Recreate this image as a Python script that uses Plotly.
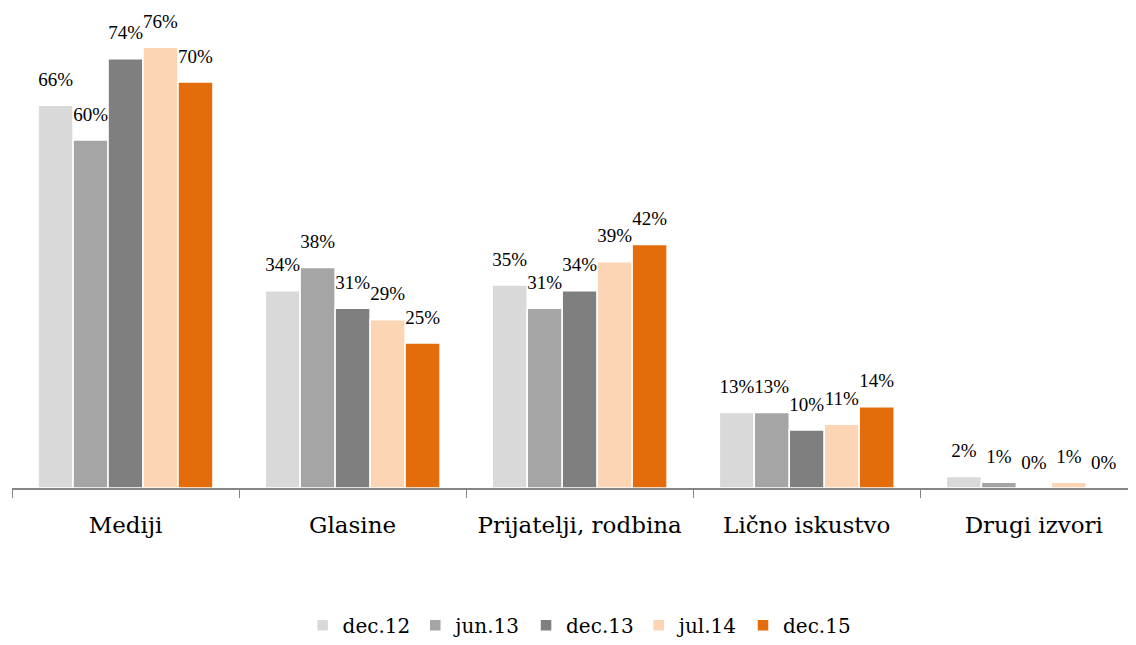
import plotly.graph_objects as go

# ==========================================================
# DATA
# ==========================================================

categories = ["Mediji", "Glasine", "Prijatelji, rodbina", "Lično iskustvo", "Drugi izvori"]

series_names = ["dec.12", "jun.13", "dec.13", "jul.14", "dec.15"]

dec12 = [66, 34, 35, 13, 2]
jun13 = [60, 38, 31, 13, 1]
dec13 = [74, 31, 34, 10, 0]
jul14 = [76, 29, 39, 11, 1]
dec15 = [70, 25, 42, 14, 0]

series_values = [dec12, jun13, dec13, jul14, dec15]

colors = ["#D9D9D9", "#A5A5A5", "#7F7F7F", "#FCD5B4", "#E46C0A"]

FONT = "DejaVu Serif, Liberation Serif, serif"
LABEL_FONT = "Liberation Serif, DejaVu Serif, serif"

# ==========================================================
# FIGURE
# ==========================================================

fig = go.Figure()

for name, vals, col in zip(series_names, series_values, colors):
    fig.add_trace(go.Bar(
        name=name,
        x=categories,
        y=vals,
        offsetgroup=name,
        marker=dict(color=col, line=dict(color="white", width=1.5)),
        hoverinfo="skip",
    ))

# value labels: invisible grouped markers so the text sits a bit above each bar
for name, vals in zip(series_names, series_values):
    fig.add_trace(go.Scatter(
        x=categories,
        y=vals,
        offsetgroup=name,
        mode="markers+text",
        marker=dict(size=22, color="rgba(0,0,0,0)"),
        text=[f"{v}%" for v in vals],
        textposition="top center",
        textfont=dict(family=LABEL_FONT, size=19, color="black"),
        cliponaxis=False,
        showlegend=False,
        hoverinfo="skip",
    ))

# page body has an 8px margin, so the figure is trimmed to fit the window
fig.update_layout(
    barmode="group",
    bargap=0.23,
    bargroupgap=0,
    scattermode="group",
    scattergap=0.23,
    width=1128,
    height=637,
    margin=dict(l=4, r=0, t=16, b=151),
    paper_bgcolor="white",
    plot_bgcolor="white",
    font=dict(family=FONT, color="black"),
    showlegend=True,
    legend=dict(
        orientation="h",
        x=0.505,
        xanchor="center",
        y=-0.296,
        yanchor="middle",
        font=dict(family=FONT, size=20, color="black"),
        itemwidth=30,
    ),
    xaxis=dict(
        range=[-0.5, 4.45],
        showline=True,
        linecolor="#868686",
        linewidth=1.5,
        ticks="outside",
        tickson="boundaries",
        ticklen=8,
        tickcolor="#868686",
        ticklabelstandoff=16,
        tickfont=dict(family=FONT, size=23, color="black"),
        showgrid=False,
    ),
    yaxis=dict(
        range=[0, 80],
        visible=False,
        showgrid=False,
    ),
)

fig.write_html("out.html")
